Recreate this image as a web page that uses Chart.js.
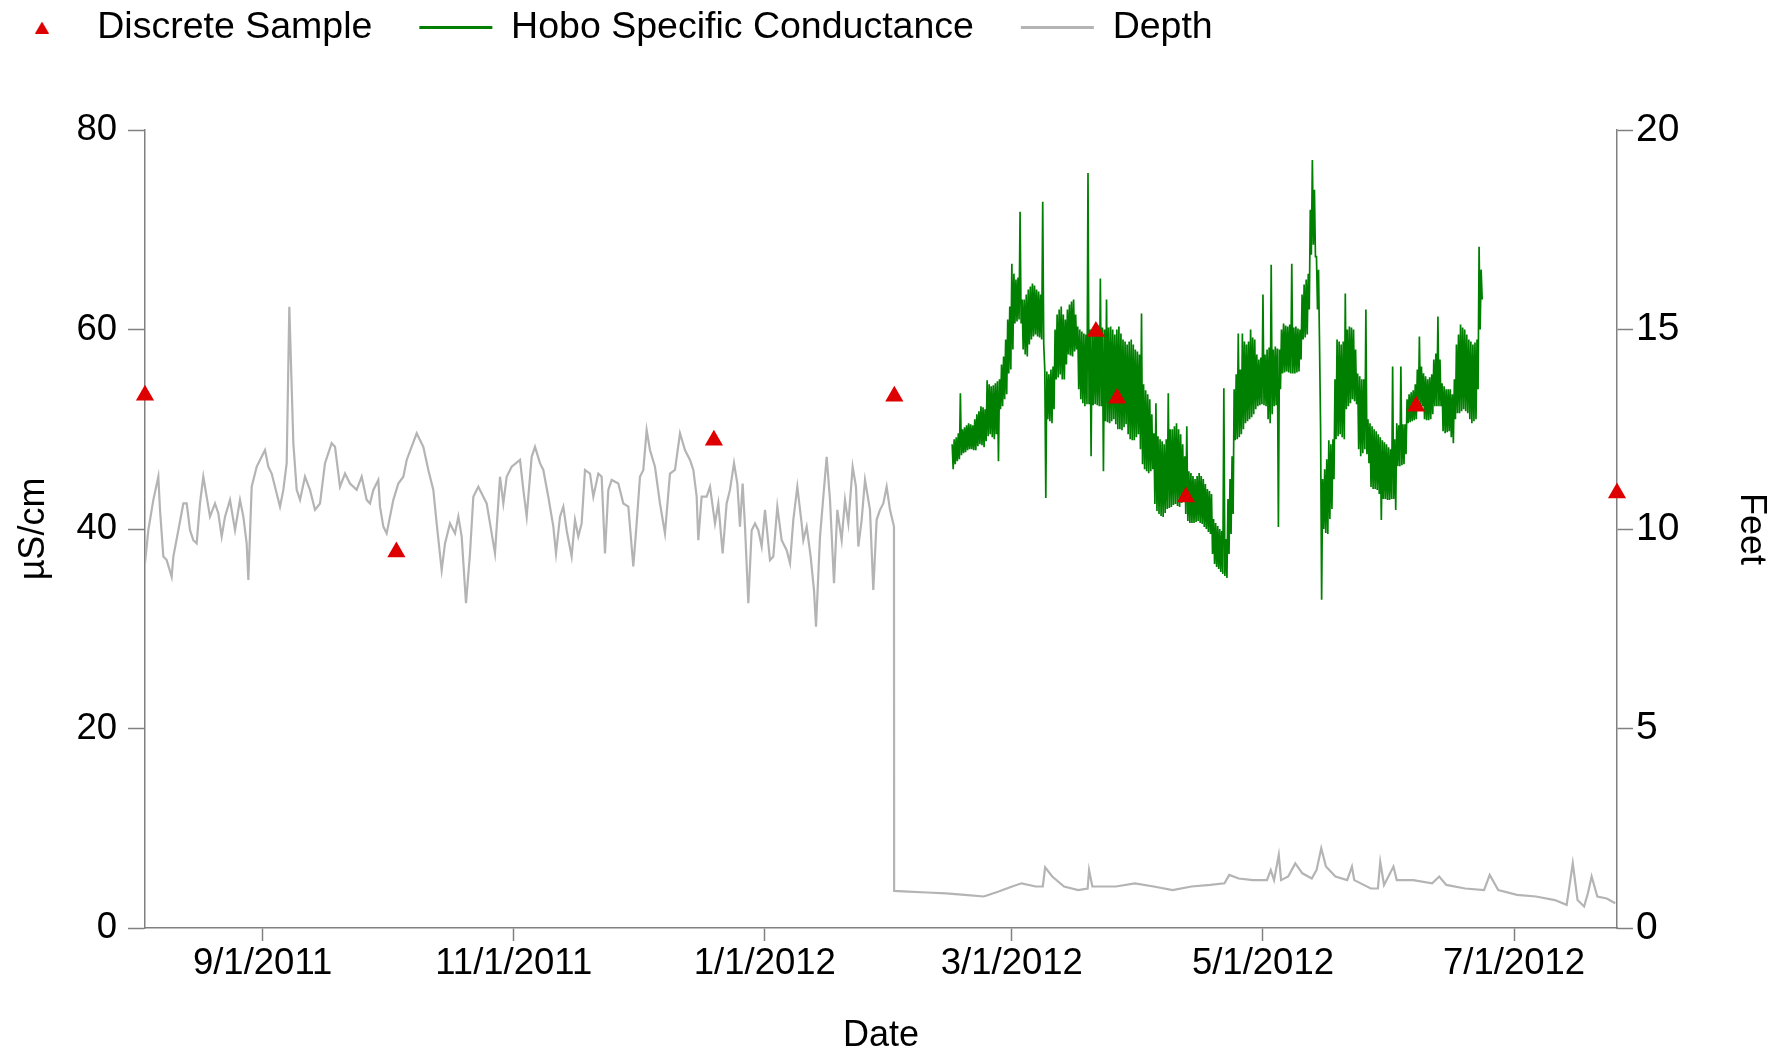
<!DOCTYPE html>
<html>
<head>
<meta charset="utf-8">
<title>Specific Conductance and Depth</title>
<script src="https://cdn.jsdelivr.net/npm/chart.js@4.4.1/dist/chart.umd.min.js"></script>
<style>
  html, body { margin: 0; padding: 0; background: #ffffff; }
  #wrap { width: 1786px; height: 1052px; }
</style>
</head>
<body>
<div id="wrap"><canvas id="chart" width="1786" height="1052"></canvas></div>
<script>
// ---- data ----------------------------------------------------------------
// Discrete grab samples, specific conductance (µS/cm)
const sampleDates = ['2011-08-03T10:25', '2011-10-03T12:00', '2011-12-19T15:00',
  '2012-02-01T11:00', '2012-03-21T10:00', '2012-03-26T14:00', '2012-04-12T07:00',
  '2012-06-07T05:00', '2012-07-26T00:00'];
const sampleValues = [53.4, 37.7, 48.9, 53.3, 59.8, 53.1, 43.2, 52.3, 43.6];

// Hobo logger specific conductance (µS/cm), one reading every 6 hours
const hoboStart = '2012-02-15T12:00';
const hoboStepHours = 6;
const hoboValues = [
  48.5,46.0,49.0,46.5,49.2,46.8,49.6,47.0,53.6,47.4,50.0,47.6,50.2,47.7,50.4,47.9,50.6,48.0,50.5,48.0,
  50.4,47.9,51.0,47.9,51.5,48.3,51.8,48.5,52.3,48.4,52.2,48.2,52.0,48.8,54.9,49.3,54.5,49.5,54.3,49.2,
  54.4,49.0,54.6,49.5,54.8,46.8,55.0,52.0,56.5,52.3,57.3,53.0,59.0,53.5,61.0,55.6,62.3,56.0,66.6,58.0,
  65.6,60.6,65.0,60.8,65.2,61.0,71.8,60.6,63.0,58.0,63.0,57.5,63.5,57.3,64.0,58.5,64.3,59.0,64.6,59.3,
  64.4,59.5,64.0,59.3,63.8,59.2,63.5,59.0,72.8,58.5,56.0,43.1,55.8,51.0,55.5,50.8,56.0,50.6,56.3,52.0,
  60.0,55.0,61.5,55.2,62.0,55.5,62.3,55.0,61.5,55.0,61.0,56.5,62.0,57.5,62.5,57.4,62.8,57.3,63.0,57.8,
  61.5,58.0,60.3,54.0,60.0,53.0,59.8,52.6,59.6,52.3,59.5,52.5,75.7,52.5,60.0,47.3,60.0,52.4,60.3,52.5,
  60.6,52.4,60.4,52.3,65.1,52.3,60.2,45.8,60.0,50.8,63.0,50.7,60.2,50.6,60.3,50.8,60.0,51.0,59.5,50.5,
  60.0,50.0,60.3,50.0,59.6,49.9,59.0,50.2,58.8,50.5,58.5,49.5,58.8,49.0,59.0,48.9,58.5,48.9,58.0,49.2,
  57.8,49.5,57.5,48.0,61.6,46.5,54.5,46.0,53.9,45.8,53.5,45.6,53.0,45.8,51.5,46.0,49.6,42.5,52.6,41.8,
  49.3,41.5,49.0,41.3,48.8,41.2,48.5,41.6,49.0,42.0,53.6,42.1,50.0,42.2,50.0,42.4,50.3,42.5,50.6,42.3,
  50.0,42.2,49.5,42.6,48.5,43.0,47.3,41.5,50.3,40.8,45.8,40.6,45.6,40.6,45.3,40.6,45.0,40.7,45.3,40.8,
  45.6,40.6,45.3,40.5,45.0,40.2,44.5,40.0,44.0,39.7,43.8,39.5,43.5,37.5,41.0,36.5,40.6,36.2,40.3,36.0,
  40.0,35.7,39.8,35.5,54.1,35.3,39.0,35.1,43.0,37.5,45.0,39.5,47.3,41.5,54.0,48.9,55.5,49.0,59.6,49.2,
  56.0,49.5,59.6,50.0,58.8,50.6,58.5,50.8,58.8,51.0,60.0,51.2,59.2,51.5,59.0,52.0,57.5,52.3,57.0,52.4,
  57.2,52.5,63.5,52.4,57.5,52.3,58.0,51.0,58.2,50.6,66.5,51.5,58.0,52.3,58.3,52.4,58.1,40.2,58.0,54.0,
  60.0,55.6,60.6,55.7,60.4,55.8,60.3,55.7,60.5,55.6,66.6,55.6,60.2,55.6,60.3,55.7,60.1,55.8,60.0,57.0,
  63.5,59.0,64.5,59.2,65.0,59.5,65.6,62.0,72.0,67.5,77.0,68.5,74.0,67.3,67.3,62.0,66.0,58.3,50.0,32.9,
  45.0,40.0,46.0,39.6,47.0,39.5,48.9,41.0,48.5,42.0,49.0,45.0,55.0,49.0,59.0,49.3,58.8,49.5,58.5,49.2,
  58.8,49.0,63.6,52.0,60.0,52.3,60.3,52.6,60.2,53.0,60.0,52.8,58.0,52.5,55.6,48.0,55.3,47.3,55.0,47.6,
  55.0,48.0,62.0,47.5,51.0,46.6,50.6,44.2,50.3,44.0,50.0,44.0,49.8,43.9,49.5,43.5,49.2,40.9,48.9,43.0,
  48.7,43.0,48.5,42.9,48.2,42.9,48.0,43.0,56.3,43.0,49.0,41.9,50.6,46.3,50.4,46.3,56.3,46.4,50.5,46.5,
  50.5,47.5,53.0,50.6,53.5,50.7,53.7,50.8,53.9,50.9,54.5,51.0,56.0,52.0,59.3,52.2,56.3,52.3,55.6,51.0,
  55.3,50.9,55.0,50.9,55.2,51.0,55.5,51.5,57.0,52.3,57.6,52.3,61.3,52.3,57.0,52.3,54.6,49.8,54.3,49.6,
  54.0,49.7,54.0,49.8,54.0,49.2,53.5,48.6,55.0,51.0,58.5,51.6,59.5,51.6,60.5,51.8,60.2,52.0,60.0,51.8,
  59.5,51.6,59.0,51.0,58.8,50.6,58.5,50.8,58.7,51.0,59.0,54.0,68.3,60.0,66.0,63.0
];

// Water depth (feet): [days after 2011-08-01, depth]
const depthReadings = [
  [2.43,9.14],[3.24,9.97],[4.46,10.73],[5.67,11.31],[6.08,10.48],[6.89,9.31],[7.70,9.22],[8.91,8.80],
  [9.32,9.31],[10.53,9.97],[11.75,10.64],[12.56,10.64],[13.37,9.97],[14.17,9.72],[14.98,9.64],
  [15.79,10.64],[16.60,11.31],[17.41,10.81],[18.22,10.31],[19.44,10.64],[20.25,10.39],[21.06,9.81],
  [21.87,10.31],[23.08,10.73],[24.30,9.97],[25.51,10.73],[26.32,10.31],[27.13,9.64],[27.54,8.72],
  [28.35,11.06],[29.56,11.56],[30.37,11.73],[31.58,11.98],[32.39,11.56],[33.20,11.39],[34.01,11.06],
  [35.23,10.56],[36.04,10.98],[36.85,11.65],[37.49,15.57],[38.06,13.57],[38.47,12.15],[39.28,10.98],
  [40.09,10.73],[41.30,11.31],[42.51,10.98],[43.73,10.48],[44.94,10.64],[46.16,11.65],[47.78,12.15],
  [48.59,12.06],[49.80,11.06],[51.02,11.39],[52.23,11.14],[53.85,10.98],[55.07,11.31],[56.28,10.73],
  [57.09,10.64],[57.90,10.98],[59.11,11.23],[59.52,10.56],[60.33,10.06],[61.14,9.89],[62.76,10.73],
  [63.97,11.14],[65.19,11.31],[66.00,11.73],[68.43,12.40],[70.04,12.06],[71.26,11.48],[72.47,10.98],
  [73.28,10.14],[74.50,8.97],[75.31,9.64],[76.52,10.14],[77.74,9.89],[78.55,10.31],[79.36,9.81],
  [80.41,8.14],[81.38,9.39],[82.19,10.81],[83.41,11.06],[84.62,10.81],[85.43,10.64],[86.24,10.14],
  [87.45,9.39],[88.67,11.31],[89.48,10.64],[90.29,11.31],[91.50,11.56],[93.53,11.73],[94.34,10.98],
  [95.15,10.31],[96.36,11.81],[97.17,12.06],[98.38,11.65],
  [99.19,11.48],[100.40,10.81],[101.62,10.06],[102.27,9.39],[103.24,10.31],[104.05,10.56],
  [104.86,9.97],[106.07,9.31],[106.88,10.23],[107.69,9.81],[108.50,10.14],[109.31,11.48],
  [110.53,11.39],[111.34,10.81],[112.55,11.39],[113.36,11.31],[114.17,9.39],[114.98,10.98],
  [115.79,11.23],[117.41,11.14],[118.62,10.64],[119.84,10.56],[121.05,9.06],[121.86,10.14],
  [122.67,11.31],[123.48,11.48],[124.29,12.48],[125.10,11.98],[126.31,11.56],[127.53,10.64],
  [128.74,9.89],[129.96,11.39],[131.17,11.48],[132.39,12.40],[133.60,11.98],[134.82,11.73],
  [135.63,11.48],[136.44,10.81],[136.84,9.72],[137.65,10.81],[138.87,10.81],[139.68,11.06],
  [140.89,10.14],[141.70,10.64],[142.75,9.39],[143.72,10.64],[144.53,10.98],[145.51,11.65],
  [146.32,11.14],[146.96,10.06],[147.61,11.14],[148.18,10.06],[148.99,8.14],[149.80,9.97],
  [150.61,10.14],[151.42,9.97],[152.23,9.56],[153.04,10.48],[154.25,9.22],[155.06,9.31],
  [156.03,10.56],[157.09,9.72],[158.30,9.47],[159.11,9.14],[159.92,10.23],[160.89,11.06],
  [161.94,10.14],[162.35,9.72],[163.16,10.06],[164.13,9.31],[164.94,8.47],[165.43,7.55],
  [166.40,9.81],[168.02,11.81],[168.83,10.73],[169.80,8.64],[170.61,10.48],[171.66,9.72],
  [172.47,10.73],[173.28,10.14],[174.33,11.56],[175.14,11.06],[175.71,9.56],[176.52,10.23],
  [177.33,11.23],[178.54,10.48],[179.35,8.47],[180.16,10.23],[180.97,10.48],[181.78,10.64],
  [182.59,11.06],[183.40,10.48],[184.37,10.06],
  [184.41,0.93],[187.85,0.91],[192.43,0.89],[197.02,0.87],[201.60,0.83],[206.19,0.79],[209.63,0.91],
  [213.07,1.04],[215.36,1.12],[218.80,1.04],[220.52,1.04],[221.09,1.52],[222.81,1.29],[225.68,1.04],
  [229.12,0.95],[231.41,0.99],[231.76,1.45],[232.56,1.04],[238.29,1.04],[242.88,1.12],[247.46,1.04],
  [252.05,0.95],[256.63,1.04],[261.22,1.08],[264.66,1.12],[265.80,1.33],[268.10,1.24],[271.54,1.20],
  [274.97,1.20],[275.89,1.45],[276.69,1.20],[277.84,1.83],[278.41,1.20],[280.13,1.29],[281.85,1.62],
  [283.57,1.37],[285.86,1.24],[287.01,1.45],[288.16,2.00],[289.30,1.54],[291.60,1.29],[294.46,1.20],
  [295.61,1.54],[296.18,1.20],[300.20,0.99],[301.92,0.99],[302.49,1.66],[303.41,1.08],[305.70,1.54],
  [306.50,1.20],[310.51,1.20],[315.10,1.12],[316.82,1.29],[318.54,1.08],[323.12,0.99],[327.71,0.95],
  [329.08,1.33],[331.15,0.95],[335.73,0.83],[340.32,0.79],[344.90,0.70],[347.77,0.58],[349.26,1.62],
  [350.41,0.70],[352.01,0.54],[352.93,0.87],[353.84,1.29],[355.22,0.79],[357.52,0.74],[359.58,0.62]
];

// Date axis tick labels
const dateTickLabels = ['9/1/2011', '11/1/2011', '1/1/2012', '3/1/2012', '5/1/2012', '7/1/2012'];

// ---- helpers: x values are days after 2011-08-01 ------------------------
const DAY0 = Date.UTC(2011, 7, 1);
const MS_DAY = 86400000;
const dayOfIso = iso => (Date.parse(iso + 'Z') - DAY0) / MS_DAY;
const dayOfLabel = s => {
  const [m, d, y] = s.split('/').map(Number);
  return (Date.UTC(y, m - 1, d) - DAY0) / MS_DAY;
};

const samplePoints = sampleDates.map((d, i) => ({ x: dayOfIso(d), y: sampleValues[i] }));
const hoboStartDay = dayOfIso(hoboStart);
const hoboPoints = hoboValues.map((v, i) => ({ x: hoboStartDay + i * hoboStepHours / 24, y: v }));
const depthPoints = depthReadings.map(([d, v]) => ({ x: d, y: v }));
const tickDays = dateTickLabels.map(dayOfLabel);

const xMin = samplePoints[0].x;
const xMax = samplePoints[samplePoints.length - 1].x;

// ---- styling ---------------------------------------------------------------
const FONT = "'Liberation Sans', Arial, Helvetica, sans-serif";
const AXIS_GREY = 'rgb(128,128,128)';
const RED = 'rgb(222,0,0)';
const GREEN = 'rgb(0,128,0)';
const DEPTH_GREY = 'rgb(180,180,180)';

Chart.defaults.font.family = FONT;
Chart.defaults.color = '#000000';

// Small red triangle used as the legend symbol of the sample series
function legendTriangle() {
  const c = document.createElement('canvas');
  c.width = 14;
  c.height = 12;
  const g = c.getContext('2d');
  g.fillStyle = RED;
  g.beginPath();
  g.moveTo(7, 0);
  g.lineTo(14, 12);
  g.lineTo(0, 12);
  g.closePath();
  g.fill();
  return c;
}
const triangleSymbol = legendTriangle();

// Places the legend row at the top-left edge of the canvas
const legendPlacement = {
  id: 'legendPlacement',
  afterLayout(chart) {
    const lg = chart.legend;
    if (!lg) return;
    const pad = lg.options.labels.padding;
    const half = lg.options.labels.font.size / 2;
    lg.left = 5.5 - pad;
    lg.top = 27.5 - pad - half;
  }
};

new Chart(document.getElementById('chart'), {
  type: 'scatter',
  data: {
    datasets: [
      {
        label: 'Discrete Sample',
        data: samplePoints,
        yAxisID: 'y',
        showLine: false,
        pointStyle: 'triangle',
        pointRadius: 10.5,
        pointBackgroundColor: RED,
        pointBorderColor: RED,
        pointBorderWidth: 0,
        backgroundColor: RED,
        borderColor: RED,
        borderWidth: 0,
        clip: false
      },
      {
        label: 'Hobo Specific Conductance',
        data: hoboPoints,
        yAxisID: 'y',
        showLine: true,
        borderColor: GREEN,
        backgroundColor: GREEN,
        borderWidth: 1.7,
        pointRadius: 0,
        pointStyle: 'line',
        tension: 0
      },
      {
        label: 'Depth',
        data: depthPoints,
        yAxisID: 'y2',
        showLine: true,
        borderColor: DEPTH_GREY,
        backgroundColor: DEPTH_GREY,
        borderWidth: 2.2,
        pointRadius: 0,
        pointStyle: 'line',
        tension: 0
      }
    ]
  },
  options: {
    responsive: false,
    animation: false,
    devicePixelRatio: 1,
    layout: { padding: { top: 35.5, left: 0, right: 0, bottom: 0 } },
    plugins: {
      tooltip: { enabled: false },
      legend: {
        display: true,
        position: 'top',
        align: 'start',
        labels: {
          usePointStyle: true,
          pointStyleWidth: 73,
          boxHeight: 11,
          padding: 47,
          color: '#000000',
          font: { size: 37.5, family: FONT },
          generateLabels(chart) {
            const items = Chart.defaults.plugins.legend.labels.generateLabels(chart);
            items.forEach(item => {
              if (item.datasetIndex === 0) item.pointStyle = triangleSymbol;
              else item.lineWidth = 3;
            });
            return items;
          }
        }
      }
    },
    scales: {
      x: {
        type: 'linear',
        position: 'bottom',
        min: xMin,
        max: xMax,
        afterBuildTicks(scale) {
          scale.ticks = tickDays.map(v => ({ value: v }));
        },
        afterFit(scale) { scale.height = 124; },
        ticks: {
          autoSkip: false,
          maxRotation: 0,
          padding: 1,
          font: { size: 36.5 },
          color: '#000000',
          callback: (value, index) => dateTickLabels[index]
        },
        grid: {
          display: true,
          drawOnChartArea: false,
          drawTicks: true,
          tickLength: 13,
          tickWidth: 1.5,
          tickColor: AXIS_GREY,
          color: AXIS_GREY
        },
        border: { display: true, color: AXIS_GREY, width: 1.5 },
        title: {
          display: true,
          text: 'Date',
          color: '#000000',
          font: { size: 36, lineHeight: 1 },
          padding: { top: 0, bottom: -2 }
        }
      },
      y: {
        type: 'linear',
        position: 'left',
        min: 0,
        max: 80,
        afterFit(scale) { scale.width = 145; },
        ticks: { stepSize: 20, padding: 11, font: { size: 36.5 }, color: '#000000' },
        grid: {
          display: true,
          drawOnChartArea: false,
          drawTicks: true,
          tickLength: 17,
          tickWidth: 1.5,
          tickColor: AXIS_GREY,
          color: AXIS_GREY
        },
        border: { display: true, color: AXIS_GREY, width: 1.5 },
        title: {
          display: true,
          text: 'µS/cm',
          color: '#000000',
          font: { size: 36, lineHeight: 1 },
          padding: { top: 16, bottom: 0 }
        }
      },
      y2: {
        type: 'linear',
        position: 'right',
        min: 0,
        max: 20,
        afterFit(scale) { scale.width = 169; },
        ticks: { stepSize: 5, padding: 3, font: { size: 39 }, color: '#000000' },
        grid: {
          display: true,
          drawOnChartArea: false,
          drawTicks: true,
          tickLength: 16,
          tickWidth: 1.5,
          tickColor: AXIS_GREY,
          color: AXIS_GREY
        },
        border: { display: true, color: AXIS_GREY, width: 1.5 },
        title: {
          display: true,
          text: 'Feet',
          color: '#000000',
          font: { size: 36, lineHeight: 1 },
          padding: { top: 17, bottom: 0 }
        }
      }
    }
  },
  plugins: [legendPlacement]
});
</script>
</body>
</html>
